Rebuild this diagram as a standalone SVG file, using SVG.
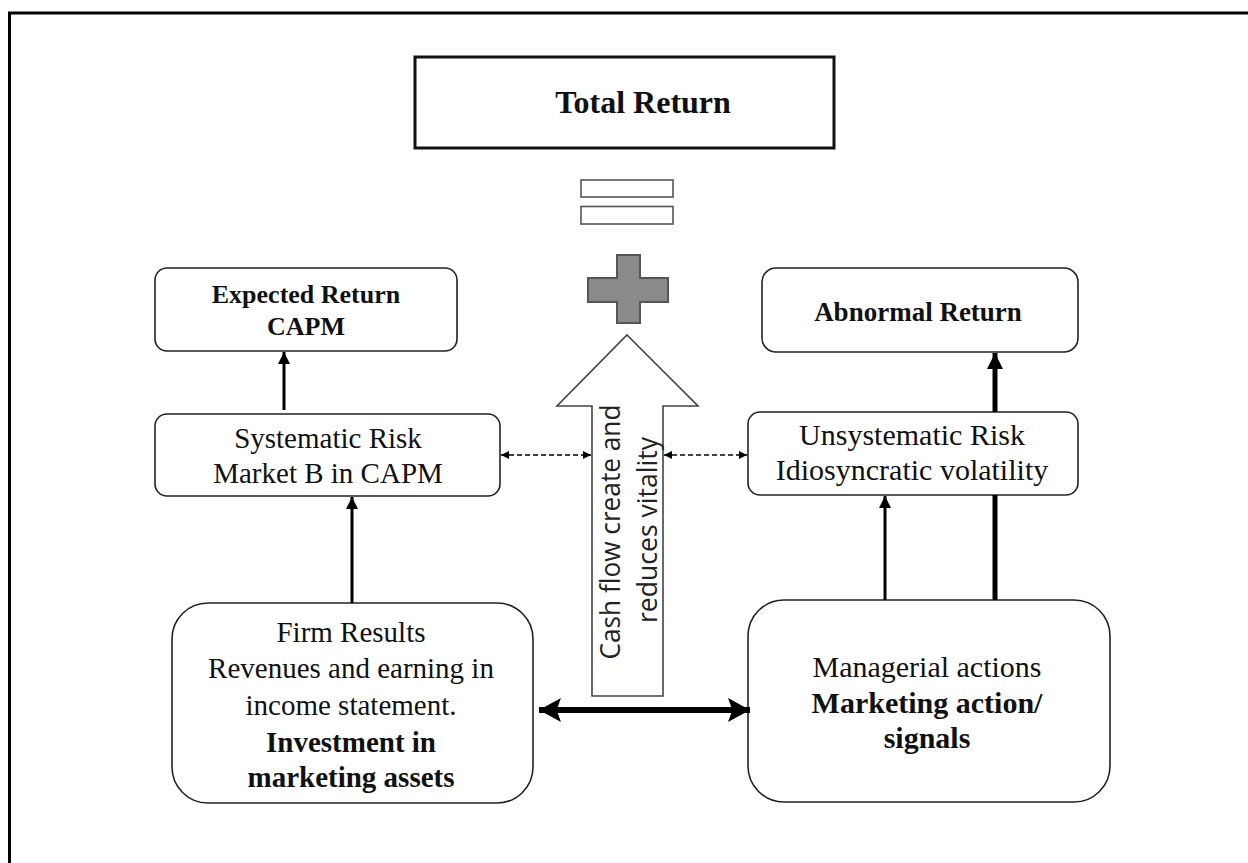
<svg xmlns="http://www.w3.org/2000/svg" width="1248" height="863" viewBox="0 0 1248 863">
<defs>
<style>
.box{fill:#fff;stroke:#222;stroke-width:1.6}
.t{font-family:"Liberation Serif","Times New Roman",serif;fill:#111;text-anchor:middle}
.b{font-weight:bold}
.ln{stroke:#000;fill:none}
.sans{font-family:"Open Sans","Liberation Sans",sans-serif;fill:#222;text-anchor:middle}
</style>
<marker id="ah" markerUnits="userSpaceOnUse" markerWidth="12" markerHeight="12" refX="10" refY="5" orient="auto-start-reverse" viewBox="0 0 10 10"><path d="M0,0 L10,5 L0,10 Z" fill="#000"/></marker>
<marker id="ahs" markerUnits="userSpaceOnUse" markerWidth="8" markerHeight="8" refX="10" refY="5" orient="auto-start-reverse" viewBox="0 0 10 10"><path d="M0,0 L10,5 L0,10 Z" fill="#000"/></marker>
<marker id="ahb" markerUnits="userSpaceOnUse" markerWidth="16" markerHeight="16" refX="10" refY="5" orient="auto-start-reverse" viewBox="0 0 10 10"><path d="M0,0 L10,5 L0,10 Z" fill="#000"/></marker>
<marker id="ahx" markerUnits="userSpaceOnUse" markerWidth="22" markerHeight="24" refX="10" refY="5" orient="auto-start-reverse" viewBox="0 0 10 10" preserveAspectRatio="none"><path d="M0,0 L10,5 L0,10 L2,5 Z" fill="#000"/></marker>
</defs>
<rect width="1248" height="863" fill="#fff"/>
<path d="M9.5 863 V13 H1248" stroke="#000" stroke-width="3" fill="none"/>

<g id="total-return">
<rect x="415" y="57" width="419" height="91" fill="#fff" stroke="#111" stroke-width="3"/>
<text class="t b" x="643" y="113" font-size="32">Total Return</text>
</g>

<g id="equals">
<rect x="581" y="180" width="92" height="17" fill="#fff" stroke="#555" stroke-width="1.6"/>
<rect x="581" y="206.5" width="92" height="17.5" fill="#fff" stroke="#555" stroke-width="1.6"/>
</g>

<g id="plus">
<path d="M617 255 H640 V278 H668 V302 H640 V323 H617 V302 H588 V278 H617 Z" fill="#8a8a8a" stroke="#555" stroke-width="2"/>
</g>

<g id="cash-flow-arrow">
<path d="M627 335 L698 406 H663 V696 H592 V406 H557 Z" fill="#fff" stroke="#444" stroke-width="1.6"/>
<text class="sans" font-size="27" transform="translate(620,532) rotate(-90)" textLength="255" lengthAdjust="spacingAndGlyphs">Cash flow create and</text>
<text class="sans" font-size="27" transform="translate(657,530) rotate(-90)" textLength="186" lengthAdjust="spacingAndGlyphs">reduces vitality</text>
</g>

<g id="expected-return">
<rect class="box" x="155" y="268" width="302" height="83" rx="12"/>
<text class="t b" x="306" y="303" font-size="26">Expected Return</text>
<text class="t b" x="306" y="335" font-size="26">CAPM</text>
</g>

<g id="systematic-risk">
<rect class="box" x="155" y="414" width="345" height="82" rx="12"/>
<text class="t" x="328" y="448" font-size="29">Systematic Risk</text>
<text class="t" x="328" y="483" font-size="29">Market B in CAPM</text>
</g>

<g id="abnormal-return">
<rect class="box" x="762" y="268" width="316" height="84" rx="14"/>
<text class="t b" x="918" y="321" font-size="27">Abnormal Return</text>
</g>

<g id="unsystematic-risk">
<rect class="box" x="748" y="412" width="330" height="83" rx="12"/>
<text class="t" x="912" y="445" font-size="30">Unsystematic Risk</text>
<text class="t" x="912" y="480" font-size="30">Idiosyncratic volatility</text>
</g>

<g id="firm-results">
<rect class="box" x="172" y="603" width="361" height="200" rx="36"/>
<text class="t" x="351" y="642" font-size="29">Firm Results</text>
<text class="t" x="351" y="678" font-size="29">Revenues and earning in</text>
<text class="t" x="351" y="715" font-size="29">income statement.</text>
<text class="t b" x="351" y="752" font-size="29">Investment in</text>
<text class="t b" x="351" y="787" font-size="29">marketing assets</text>
</g>

<g id="managerial-actions">
<rect class="box" x="748" y="600" width="362" height="202" rx="36"/>
<text class="t" x="927" y="677" font-size="30">Managerial actions</text>
<text class="t b" x="927" y="713" font-size="30">Marketing action/</text>
<text class="t b" x="927" y="748" font-size="30">signals</text>
</g>

<g id="connectors">
<line class="ln" x1="284" y1="410" x2="284" y2="352" stroke-width="3" marker-end="url(#ah)"/>
<line class="ln" x1="352" y1="603" x2="352" y2="497" stroke-width="3" marker-end="url(#ah)"/>
<line class="ln" x1="995" y1="412" x2="995" y2="353" stroke-width="5" marker-end="url(#ahb)"/>
<line class="ln" x1="885" y1="600" x2="885" y2="496" stroke-width="3" marker-end="url(#ah)"/>
<line class="ln" x1="995" y1="600" x2="995" y2="495" stroke-width="5"/>
<line class="ln" x1="501" y1="455" x2="591" y2="455" stroke-width="1.6" stroke-dasharray="5,3" marker-start="url(#ahs)" marker-end="url(#ahs)"/>
<line class="ln" x1="664" y1="455" x2="747" y2="455" stroke-width="1.6" stroke-dasharray="5,3" marker-start="url(#ahs)" marker-end="url(#ahs)"/>
<line class="ln" x1="539" y1="710" x2="750" y2="710" stroke-width="6" marker-start="url(#ahx)" marker-end="url(#ahx)"/>
</g>
</svg>
